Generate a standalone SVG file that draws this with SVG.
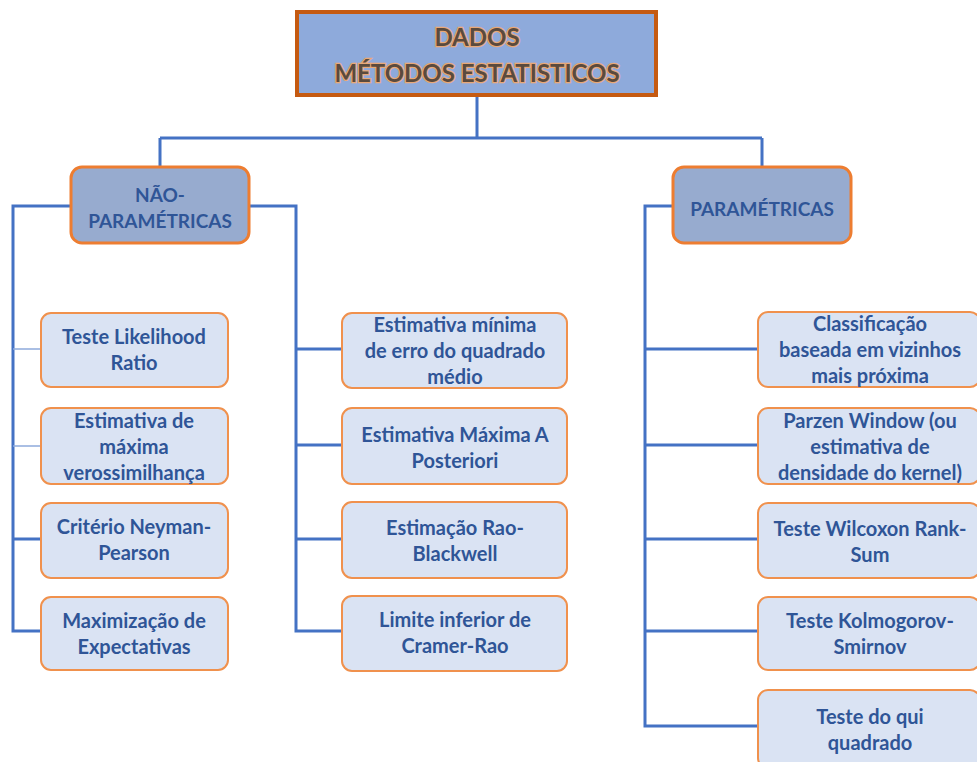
<svg xmlns="http://www.w3.org/2000/svg" width="977" height="762" viewBox="0 0 977 762">
<style>
.c{fill:none;stroke:#4472c4;stroke-width:3}
.ct{fill:none;stroke:#8eaadb;stroke-width:1.5}
.box{fill:#dae3f3;stroke:#f0914d;stroke-width:2}
.cat{fill:#97abcf;stroke:#ed7d31;stroke-width:3}
.t{font-family:Lato,"Open Sans",sans-serif;font-weight:bold;font-size:20px;fill:#2f5597;text-anchor:middle;dominant-baseline:central}
.tc{font-size:19px}
.tt{font-family:Lato,"Open Sans",sans-serif;font-weight:bold;font-size:24px;fill:#5a4a3e;stroke:#e8a878;stroke-width:2.5;paint-order:stroke;text-anchor:middle;dominant-baseline:central}
</style>
<rect width="977" height="762" fill="#ffffff"/>
<g id="connectors">
<path class="c" d="M477,97 V138 M160,138 H762 M160,138 V167 M762,138 V167"/>
<path class="c" d="M71,206 H13 V631 H41 M13,539 H41"/>
<path class="ct" d="M13,349 H41 M13,446 H41"/>
<path class="c" d="M249,206 H296 V631 H342 M296,349 H342 M296,445 H342 M296,539 H342"/>
<path class="c" d="M673,206 H645 V726 H758 M645,349 H758 M645,445 H758 M645,539 H758 M645,631 H758"/>
</g>
<g id="root">
<rect x="297" y="12" width="359" height="83" fill="#8eaadb" stroke="#c55a11" stroke-width="4"/>
<text class="tt" x="477" y="36">DADOS</text>
<text class="tt" x="477" y="72">MÉTODOS ESTATISTICOS</text>
</g>
<g id="nao-parametricas">
<rect class="cat" x="71" y="167" width="178" height="76" rx="11"/>
<text class="t tc" x="160" y="194">NÃO-</text>
<text class="t tc" x="160" y="220">PARAMÉTRICAS</text>
</g>
<g id="parametricas">
<rect class="cat" x="673" y="167" width="178" height="76" rx="11"/>
<text class="t tc" x="762" y="208">PARAMÉTRICAS</text>
</g>
<g id="likelihood">
<rect class="box" x="41" y="313" width="187" height="74" rx="10"/>
<text class="t" x="134" y="336">Teste Likelihood</text>
<text class="t" x="134" y="362">Ratio</text>
</g>
<g id="verossimilhanca">
<rect class="box" x="41" y="408" width="187" height="76" rx="10"/>
<text class="t" x="134" y="420">Estimativa de</text>
<text class="t" x="134" y="446">máxima</text>
<text class="t" x="134" y="472">verossimilhança</text>
</g>
<g id="neyman">
<rect class="box" x="41" y="503" width="187" height="75" rx="10"/>
<text class="t" x="134" y="526">Critério Neyman-</text>
<text class="t" x="134" y="552">Pearson</text>
</g>
<g id="maximizacao">
<rect class="box" x="41" y="597" width="187" height="73" rx="10"/>
<text class="t" x="134" y="620">Maximização de</text>
<text class="t" x="134" y="646">Expectativas</text>
</g>
<g id="minima">
<rect class="box" x="342" y="313" width="225" height="75" rx="10"/>
<text class="t" x="455" y="324">Estimativa mínima</text>
<text class="t" x="455" y="350">de erro do quadrado</text>
<text class="t" x="455" y="376">médio</text>
</g>
<g id="posteriori">
<rect class="box" x="342" y="408" width="225" height="76" rx="10"/>
<text class="t" x="455" y="434">Estimativa Máxima A</text>
<text class="t" x="455" y="460">Posteriori</text>
</g>
<g id="rao-blackwell">
<rect class="box" x="342" y="502" width="225" height="76" rx="10"/>
<text class="t" x="455" y="527">Estimação Rao-</text>
<text class="t" x="455" y="553">Blackwell</text>
</g>
<g id="cramer-rao">
<rect class="box" x="342" y="596" width="225" height="75" rx="10"/>
<text class="t" x="455" y="619">Limite inferior de</text>
<text class="t" x="455" y="645">Cramer-Rao</text>
</g>
<g id="vizinhos">
<rect class="box" x="758" y="312" width="222" height="75" rx="10"/>
<text class="t" x="870" y="323">Classificação</text>
<text class="t" x="870" y="349">baseada em vizinhos</text>
<text class="t" x="870" y="375">mais próxima</text>
</g>
<g id="parzen">
<rect class="box" x="758" y="408" width="222" height="76" rx="10"/>
<text class="t" x="870" y="420">Parzen Window (ou</text>
<text class="t" x="870" y="446">estimativa de</text>
<text class="t" x="870" y="472">densidade do kernel)</text>
</g>
<g id="wilcoxon">
<rect class="box" x="758" y="503" width="222" height="75" rx="10"/>
<text class="t" x="870" y="528">Teste Wilcoxon Rank-</text>
<text class="t" x="870" y="554">Sum</text>
</g>
<g id="kolmogorov">
<rect class="box" x="758" y="597" width="222" height="73" rx="10"/>
<text class="t" x="870" y="620">Teste Kolmogorov-</text>
<text class="t" x="870" y="646">Smirnov</text>
</g>
<g id="qui-quadrado">
<rect class="box" x="758" y="690" width="222" height="78" rx="10"/>
<text class="t" x="870" y="716">Teste do qui</text>
<text class="t" x="870" y="742">quadrado</text>
</g>
</svg>
